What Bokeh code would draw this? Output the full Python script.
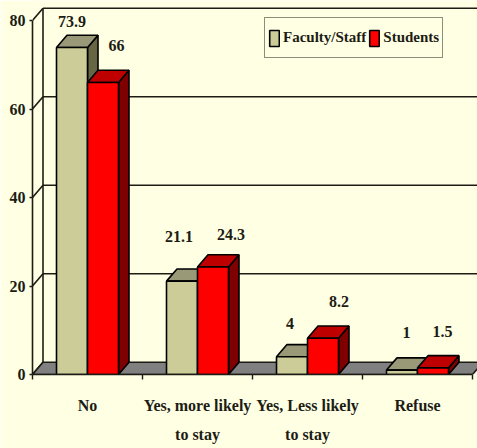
from bokeh.plotting import figure
from bokeh.embed import file_html
from bokeh.resources import INLINE
from bokeh.models import (ColumnDataSource, FixedTicker, Legend, LegendItem,
                          LabelSet, LinearAxis, Range1d)

categories = ["No", "Yes, more likely", "Yes, Less likely", "Refuse"]
second_lines = ["", "to stay", "to stay", ""]
faculty = [73.9, 21.1, 4, 1]
students = [66, 24.3, 8.2, 1.5]
y_ticks = [0, 20, 40, 60, 80]

BG = "#FFFFE4"
INK = "#1c1c14"
FONT = "Liberation Serif"
PX_X, PX_Y = 110.0, 4.425
DX, DY = 10.5 / PX_X, 12.2 / PX_Y
BAR_W, GAP = 31 / PX_X, 24 / PX_X
n = len(categories)

p = figure(width=477, height=448, output_backend="svg", toolbar_location=None,
           x_range=Range1d(0, 445 / PX_X), y_range=Range1d(0, 374 / PX_Y),
           min_border_left=32, min_border_right=0, min_border_top=0,
           min_border_bottom=74, background_fill_color=BG,
           border_fill_color=BG, outline_line_color=None)
p.grid.visible = False

# walls: gridlines on the back wall and the joins to the front axis
back = [t for t in y_ticks if t > 0]
p.segment([DX] * len(back), [t + DY for t in back], [n + DX] * len(back),
          [t + DY for t in back], line_color=INK, line_width=1.6)
p.segment([0] * len(y_ticks), y_ticks, [DX] * len(y_ticks),
          [t + DY for t in y_ticks], line_color=INK, line_width=1.6)
p.segment([DX], [DY], [DX], [y_ticks[-1] + DY], line_color=INK, line_width=1.6)

# floor
p.patch([0, n, n + DX, DX], [0, 0, DY, DY], fill_color="#808080",
        line_color=INK, line_width=1.6)


def bars(values, slot, front, top, side):
    left = [i + GAP + slot * BAR_W for i in range(n)]
    right = [x + BAR_W for x in left]
    p.patches([[r, r + DX, r + DX, r] for r in right],
              [[0, DY, v + DY, v] for v in values],
              fill_color=side, line_color="black", line_width=1.6)
    p.patches([[l, r, r + DX, l + DX] for l, r in zip(left, right)],
              [[v, v, v + DY, v + DY] for v in values],
              fill_color=top, line_color="black", line_width=1.6)
    return p.quad(left=left, right=right, bottom=0, top=values,
                  fill_color=front, line_color="black", line_width=1.6)


r1 = bars(faculty, 0, "#CCCC99", "#999977", "#666644")
r2 = bars(students, 1, "#FF0000", "#BF0000", "#7F0000")

# axes
p.yaxis.ticker = FixedTicker(ticks=y_ticks)
p.yaxis.bounds = (y_ticks[0], y_ticks[-1])
p.yaxis.minor_tick_line_color = None
p.yaxis.major_tick_in = 0
p.yaxis.major_tick_out = 3
p.yaxis.major_label_standoff = 4
p.yaxis.axis_line_width = 1.6
p.yaxis.major_tick_line_width = 1.6

centers = [i + 0.5 for i in range(n)]
p.xaxis.ticker = FixedTicker(ticks=centers, minor_ticks=list(range(n + 1)))
p.xaxis.bounds = (0, n)
p.xaxis.major_label_overrides = dict(zip(centers, categories))
p.xaxis.major_tick_in = 0
p.xaxis.major_tick_out = 0
p.xaxis.minor_tick_in = 0
p.xaxis.minor_tick_out = 5
p.xaxis.major_label_standoff = 17
p.xaxis.axis_line_width = 1.6
p.xaxis.minor_tick_line_width = 1.4
for ax in (p.xaxis[0], p.yaxis[0]):
    ax.axis_line_color = INK
    ax.major_tick_line_color = INK
    ax.major_label_text_font = FONT
    ax.major_label_text_font_style = "bold"
    ax.major_label_text_font_size = "16px"
    ax.major_label_text_color = INK
p.xaxis.minor_tick_line_color = INK

# second lines of the category labels, on a second axis under the first
line2 = {c: t for c, t in zip(centers, second_lines) if t}
ax2 = LinearAxis(ticker=FixedTicker(ticks=list(line2)),
                 major_label_overrides=line2, axis_line_color=None,
                 major_tick_line_color=None, minor_tick_line_color=None,
                 major_label_standoff=3, major_label_text_font=FONT,
                 major_label_text_font_style="bold",
                 major_label_text_font_size="16px",
                 major_label_text_color=INK)
p.add_layout(ax2, "below")

# value labels
xs = [i + GAP + 0.5 * BAR_W for i in range(n)] + [i + GAP + 1.5 * BAR_W for i in range(n)]
vals = faculty + students
src = ColumnDataSource(dict(
    x=xs, y=vals, text=[str(v) for v in vals],
    dx=[0, -3, -2, 4.5, 13.5, 18, 16, 9.5],
    dy=[26, 45, 33, 38, 37, 32, 37, 36]))
p.add_layout(LabelSet(x="x", y="y", text="text", source=src, x_offset="dx",
                      y_offset="dy", text_font=FONT, text_font_style="bold",
                      text_font_size="16px", text_color=INK,
                      text_align="center", text_baseline="middle"))

legend = Legend(items=[LegendItem(label="Faculty/Staff", renderers=[r1]),
                       LegendItem(label="Students", renderers=[r2])],
                orientation="horizontal", location=(232, 316), margin=0,
                padding=3, spacing=2, glyph_width=12, glyph_height=20,
                label_standoff=3, label_height=33,
                label_text_font=FONT, label_text_font_style="bold",
                label_text_font_size="15px", label_text_color=INK,
                background_fill_color=BG, background_fill_alpha=1,
                border_line_color=INK, border_line_width=1.6)
p.add_layout(legend)

html = file_html(p, INLINE).replace("<body>", '<body style="margin:0">')
open("out.html", "w").write(html)
